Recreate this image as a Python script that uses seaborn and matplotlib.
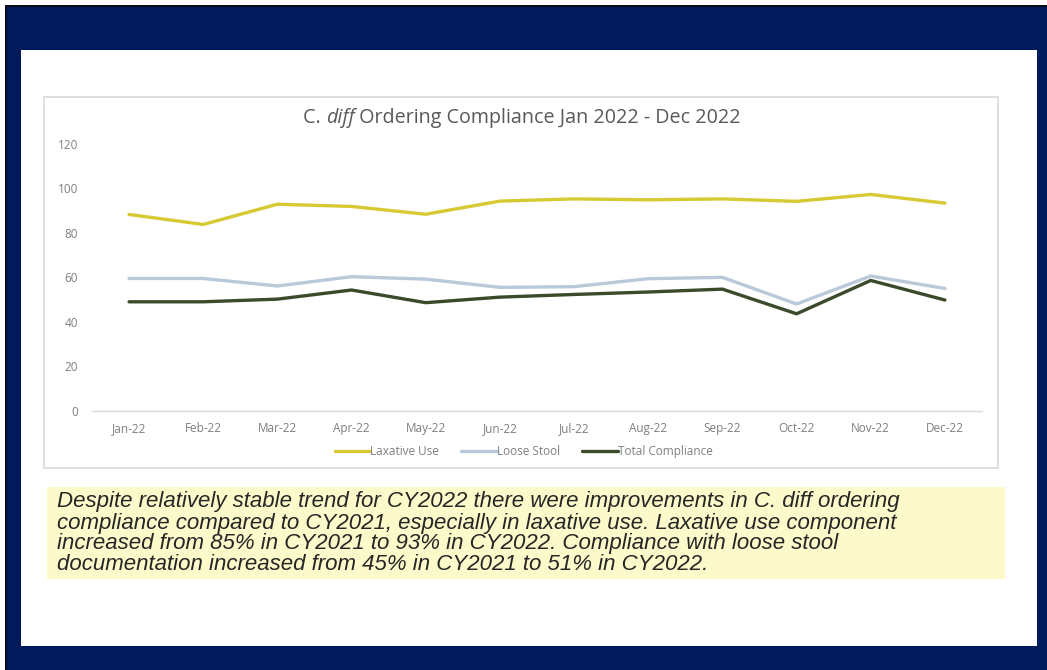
import matplotlib
matplotlib.use("Agg")
import matplotlib.pyplot as plt
from matplotlib.patches import Rectangle
import pandas as pd
import seaborn as sns

months = ["Jan-22", "Feb-22", "Mar-22", "Apr-22", "May-22", "Jun-22",
          "Jul-22", "Aug-22", "Sep-22", "Oct-22", "Nov-22", "Dec-22"]
laxative_use = [88.3, 83.8, 92.9, 91.9, 88.4, 94.3, 95.3, 94.9, 95.3, 94.2, 97.3, 93.4]
loose_stool = [59.5, 59.5, 56.1, 60.3, 59.2, 55.5, 55.8, 59.4, 60.0, 48.0, 60.6, 55.0]
total_compliance = [49.0, 49.0, 50.2, 54.3, 48.6, 51.1, 52.3, 53.4, 54.7, 43.6, 58.6, 49.8]
series_names = ["Laxative Use", "Loose Stool", "Total Compliance"]
y_ticks = [0, 20, 40, 60, 80, 100, 120]

title_plain = "C. "
title_italic = "diff"
title_rest = " Ordering Compliance Jan 2022 - Dec 2022"
summary_lines = [
    "Despite relatively stable trend for CY2022 there were improvements in C. diff ordering",
    "compliance compared to CY2021, especially in laxative use. Laxative use component",
    "increased from 85% in CY2021 to 93% in CY2022. Compliance with loose stool",
    "documentation increased from 45% in CY2021 to 51% in CY2022.",
]

df = pd.DataFrame({
    "Month": months * 3,
    "Value": laxative_use + loose_stool + total_compliance,
    "Series": [s for s in series_names for _ in months],
})
df["x"] = list(range(len(months))) * 3

palette = {"Laxative Use": "#d6c932", "Loose Stool": "#b9c9da", "Total Compliance": "#3a4a2b"}

sns.set_theme(style="white")
plt.rcParams["font.family"] = ["Open Sans", "DejaVu Sans"]

W, H = 1047, 670
fig = plt.figure(figsize=(W / 100, H / 100), dpi=100)
navy = "#021a5c"
fig.patch.set_facecolor("white")


def px_rect(x0, y0, x1, y1, **kw):
    """Rectangle given in pixel coordinates measured from the top-left corner."""
    r = Rectangle((x0 / W, 1 - y1 / H), (x1 - x0) / W, (y1 - y0) / H,
                  transform=fig.transFigure, zorder=-5, **kw)
    fig.patches.append(r)
    return r


# slide frame: thin black edge, navy band, white content panel
px_rect(5, 5, W, H, facecolor="#0b0b1a", edgecolor="none")
px_rect(7, 7, W, H, facecolor=navy, edgecolor="none")
px_rect(21, 50, 1037, 646, facecolor="white", edgecolor="none")
# chart area border
px_rect(44, 97, 998, 468, facecolor="white", edgecolor="#d9d9d9", linewidth=1.2)
# summary note box
px_rect(47, 487, 1005, 579, facecolor="#fcfacb", edgecolor="none")

ax_left, ax_right, ax_top, ax_bottom = 92, 982, 144, 410.7
ax = fig.add_axes([ax_left / W, 1 - ax_bottom / H, (ax_right - ax_left) / W, (ax_bottom - ax_top) / H])
ax.set_facecolor("none")
ax.set_zorder(5)

sns.lineplot(data=df, x="x", y="Value", hue="Series", palette=palette,
             hue_order=series_names, linewidth=2.4, ax=ax, legend=True)

ax.set_xlim(-0.5, len(months) - 0.5)
ax.set_ylim(0, 120)
ax.set_yticks(y_ticks)
ax.set_yticklabels([str(v) for v in y_ticks])
ax.set_xticks(range(len(months)))
ax.set_xticklabels(months)
ax.set_xticks([i - 0.5 for i in range(len(months) + 1)], minor=True)
ax.tick_params(axis="x", which="major", length=0, pad=8, labelsize=8.5, labelcolor="#7f7f7f")
ax.tick_params(axis="x", which="minor", length=4, width=0.8, color="#d9d9d9", direction="out")
ax.tick_params(axis="y", length=0, pad=10, labelsize=8.5, labelcolor="#7f7f7f")
ax.set_xlabel("")
ax.set_ylabel("")
for side in ["top", "right", "left"]:
    ax.spines[side].set_visible(False)
ax.spines["bottom"].set_color("#d9d9d9")
ax.spines["bottom"].set_linewidth(1.0)

handles, labels = ax.get_legend_handles_labels()
leg = ax.legend(handles, labels, loc="center", bbox_to_anchor=(0.485, -0.153), ncol=3,
                frameon=False, fontsize=8.5, handlelength=3.0, handletextpad=0.0,
                columnspacing=1.9)
for t in leg.get_texts():
    t.set_color("#7f7f7f")

# title with italic organism name
title_y = 1 - 118 / H
fig.canvas.draw()
r = fig.canvas.get_renderer()
parts = [(title_plain, "normal"), (title_italic, "italic"), (title_rest, "normal")]
texts = [fig.text(0, title_y, s, fontsize=14.2, color="#595959", va="center", style=st) for s, st in parts]
widths = [t.get_window_extent(r).width for t in texts]
x = 522 - sum(widths) / 2
for t, w in zip(texts, widths):
    t.set_x(x / W)
    x += w

# summary note, one line at a time
for i, line in enumerate(summary_lines):
    fig.text(57 / W, 1 - (502 + 21 * i) / H, line, fontsize=16.0, style="italic", color="#262626",
             family=["Liberation Sans", "DejaVu Sans"], va="center", ha="left")

fig.savefig("out.png", dpi=100, facecolor=fig.get_facecolor())
